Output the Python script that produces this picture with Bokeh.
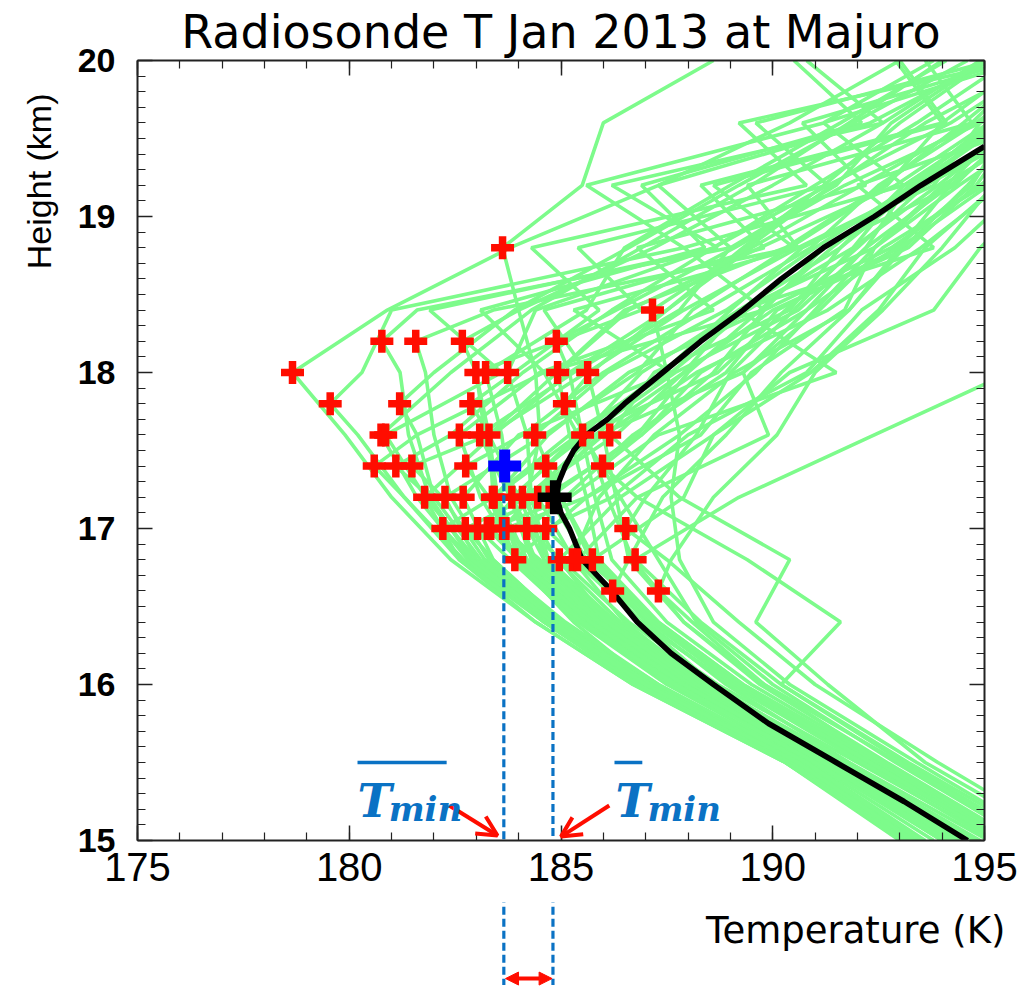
import numpy as np
from bokeh.plotting import figure
from bokeh.layouts import column
from bokeh.models import (LinearAxis, SingleIntervalTicker, Label, Arrow, OpenHead,
                          NormalHead, CustomJSTickFormatter, Range1d, Title)
from bokeh.embed import file_html
from bokeh.resources import INLINE

# ---------------- data ----------------
LEVELS = [15.0, 15.5, 16.0, 16.4, 16.8, 17.2, 17.6, 18.0, 18.4, 18.8, 19.2, 19.6, 20.0]

# cold points (red crosses): temperature (K), height (km)
CP_Z = [16.6, 16.6,
        16.8, 16.8, 16.8, 16.8, 16.8, 16.8,
        17.0, 17.0, 17.0, 17.0, 17.0, 17.0, 17.0, 17.0, 17.0, 17.0,
        17.2, 17.2, 17.2, 17.2, 17.2, 17.2, 17.2, 17.2, 17.2,
        17.4, 17.4, 17.4, 17.4, 17.4, 17.4,
        17.6, 17.6, 17.6, 17.6, 17.6, 17.6, 17.6, 17.6,
        17.8, 17.8, 17.8, 17.8,
        18.0, 18.0, 18.0, 18.0, 18.0, 18.0,
        18.2, 18.2, 18.2, 18.2,
        18.4, 18.8]
CP_T = [186.22, 187.30,
        183.91, 184.96, 185.27, 185.39, 185.74, 186.75,
        182.21, 182.74, 183.03, 183.26, 183.34, 183.62, 183.70, 184.19, 184.64, 186.53,
        181.78, 182.26, 182.69, 183.38, 183.42, 183.84, 184.09, 184.45, 184.72,
        180.59, 181.10, 181.48, 182.75, 184.64, 185.98,
        180.75, 180.86, 182.60, 183.08, 183.30, 184.38, 185.51, 186.15,
        179.55, 181.19, 182.87, 185.08,
        178.66, 182.99, 183.22, 183.74, 184.92, 185.63,
        180.77, 181.57, 182.67, 184.89,
        187.16, 183.62]

# soundings: temperature (K) at LEVELS
PROFILES_T = [
    [194.8, 191.6, 188.6, 186.9, 186.6, 187.4, 188.9, 190.2, 191.8, 193.1, 194.6, 196.0, 197.8],
    [195.8, 192.6, 189.8, 188.1, 187.6, 188.6, 190.1, 191.0, 192.6, 194.0, 195.2, 196.8, 198.4],
    [193.2, 190.3, 187.1, 185.3, 183.91, 185.6, 187.8, 189.6, 191.0, 192.4, 194.1, 195.6, 197.2],
    [194.2, 191.0, 188.0, 186.1, 184.96, 186.4, 188.6, 190.9, 192.5, 193.6, 195.3, 197.0, 199.0],
    [194.6, 191.6, 188.4, 186.5, 185.27, 185.9, 187.2, 189.1, 191.8, 193.0, 194.2, 196.1, 197.4],
    [195.4, 192.2, 189.0, 186.9, 185.39, 186.8, 189.9, 189.3, 190.8, 192.9, 194.7, 195.6, 196.9],
    [195.1, 191.8, 188.9, 187.0, 185.74, 187.9, 188.6, 190.4, 193.8, 194.9, 196.4, 198.0, 199.1],
    [196.2, 193.1, 190.2, 188.3, 186.75, 189.2, 192.4, 195.6, 197.0, 198.5, 200.0, 201.0, 202.0],
    [193.1, 190.4, 186.8, 184.6, 182.9, 183.4, 185.4, 184.6, 189.8, 187.9, 193.1, 191.2, 195.9],
    [193.4, 190.6, 187.2, 185.0, 183.4, 184.2, 185.8, 187.9, 189.2, 191.6, 193.4, 195.5, 197.3],
    [193.8, 190.9, 187.5, 185.4, 183.8, 184.6, 186.9, 188.3, 190.8, 192.2, 193.2, 195.2, 196.6],
    [194.0, 191.2, 187.8, 185.6, 184.0, 183.9, 185.4, 187.4, 189.0, 190.7, 193.8, 194.9, 197.8],
    [193.6, 190.8, 187.6, 185.5, 184.1, 185.2, 187.3, 191.5, 189.2, 193.8, 192.0, 196.3, 198.2],
    [194.3, 191.4, 188.1, 186.0, 184.5, 184.3, 186.0, 188.2, 191.3, 193.5, 195.4, 196.9, 198.6],
    [194.9, 191.7, 188.3, 186.1, 184.4, 185.6, 188.3, 189.5, 191.7, 192.4, 194.0, 196.5, 197.9],
    [195.3, 192.0, 188.7, 186.6, 185.0, 185.1, 186.7, 188.9, 190.1, 193.0, 195.1, 196.2, 198.8],
    [195.7, 192.4, 189.2, 187.1, 185.4, 186.2, 188.0, 190.8, 192.1, 194.3, 195.9, 197.6, 199.3],
    [197.0, 193.9, 191.0, 189.2, 187.5, 187.0, 188.2, 189.0, 190.5, 191.9, 193.9, 195.8, 197.1],
    [193.0, 190.3, 186.7, 184.4, 182.6, 181.78, 183.4, 185.2, 187.5, 189.3, 191.2, 193.0, 195.1],
    [193.3, 190.5, 187.0, 184.7, 183.0, 182.26, 184.6, 186.8, 188.1, 190.4, 192.7, 194.0, 196.0],
    [193.5, 190.7, 187.3, 185.0, 183.4, 182.69, 184.0, 187.6, 185.3, 190.6, 189.4, 194.7, 193.6],
    [194.1, 191.1, 187.9, 185.7, 184.1, 183.38, 185.2, 187.6, 189.4, 191.9, 193.1, 195.4, 197.0],
    [194.5, 191.5, 188.2, 185.9, 184.2, 183.42, 184.7, 186.6, 189.8, 191.2, 194.3, 195.8, 197.7],
    [194.8, 191.8, 188.5, 186.3, 184.6, 183.84, 185.5, 188.7, 190.3, 192.0, 193.6, 196.4, 198.3],
    [194.4, 191.4, 188.4, 186.4, 184.9, 184.09, 186.3, 187.9, 190.0, 193.2, 194.8, 195.9, 197.5],
    [195.2, 192.1, 189.0, 186.9, 185.3, 184.45, 185.9, 189.3, 191.1, 192.6, 195.0, 197.3, 199.4],
    [195.6, 192.5, 189.3, 187.3, 185.6, 184.72, 186.8, 188.0, 189.7, 191.4, 193.3, 195.1, 196.8],
    [193.1, 190.5, 186.9, 184.6, 182.7, 181.3, 181.6, 184.6, 183.1, 188.4, 186.9, 192.1, 190.5],
    [193.2, 190.6, 187.0, 184.8, 182.9, 181.9, 182.4, 184.1, 186.2, 188.6, 191.0, 193.4, 195.6],
    [193.4, 190.8, 187.2, 185.0, 183.2, 182.2, 183.3, 185.6, 184.6, 189.8, 188.3, 194.0, 192.9],
    [194.0, 191.1, 187.8, 185.6, 183.9, 183.3, 184.1, 186.0, 188.4, 190.9, 192.5, 194.8, 196.8],
    [195.5, 192.3, 189.1, 187.1, 185.7, 185.0, 185.6, 187.7, 190.6, 192.2, 194.2, 196.0, 198.0],
    [196.4, 193.2, 190.2, 191.6, 189.4, 186.8, 186.9, 188.6, 189.8, 192.8, 194.9, 196.8, 198.5],
    [193.2, 190.5, 186.9, 184.7, 182.8, 181.6, 180.75, 182.4, 184.3, 186.9, 189.5, 191.8, 194.0],
    [193.4, 190.7, 187.1, 184.9, 183.0, 181.8, 180.86, 183.6, 181.9, 188.7, 186.2, 192.6, 190.8],
    [194.1, 191.2, 187.9, 185.7, 184.0, 183.1, 182.60, 184.5, 188.6, 186.8, 192.2, 190.7, 195.7],
    [194.4, 191.5, 188.2, 186.0, 184.4, 183.8, 183.08, 185.3, 187.8, 189.0, 191.5, 192.8, 195.0],
    [194.7, 191.7, 188.4, 186.3, 184.7, 184.0, 183.30, 184.9, 186.5, 190.3, 192.6, 194.5, 196.3],
    [195.4, 192.3, 189.2, 187.2, 185.8, 185.0, 184.38, 186.1, 188.9, 191.0, 193.3, 195.5, 197.4],
    [196.0, 192.9, 190.0, 188.2, 187.3, 186.4, 185.51, 186.9, 189.2, 192.4, 194.4, 196.6, 198.7],
    [196.8, 193.6, 191.3, 189.6, 190.4, 187.8, 186.15, 187.2, 190.4, 191.6, 193.1, 195.3, 197.9],
    [193.2, 190.4, 186.8, 184.6, 182.6, 181.3, 180.2, 180.3, 181.0, 187.9, 185.6, 191.2, 193.8],
    [193.5, 190.7, 187.1, 184.9, 183.1, 182.0, 181.6, 182.0, 183.9, 186.6, 189.2, 191.9, 194.6],
    [194.2, 191.3, 188.0, 185.8, 184.2, 183.5, 183.3, 183.9, 185.9, 184.3, 190.8, 189.2, 195.8],
    [195.8, 192.7, 189.7, 187.9, 186.7, 186.1, 185.6, 185.7, 187.5, 189.5, 192.1, 194.7, 196.2],
    [193.1, 190.3, 186.7, 184.4, 182.4, 181.0, 179.9, 178.66, 180.9, 183.8, 187.3, 190.4, 193.0],
    [194.0, 191.0, 187.7, 185.5, 183.9, 183.4, 183.3, 182.99, 186.9, 185.4, 191.3, 189.6, 195.2],
    [194.3, 191.4, 188.1, 185.9, 184.3, 183.8, 183.6, 183.22, 185.6, 186.5, 189.0, 191.6, 194.1],
    [194.6, 191.6, 188.3, 186.2, 184.7, 184.3, 184.2, 183.74, 184.4, 188.6, 191.3, 194.2, 196.5],
    [195.6, 192.5, 189.3, 187.3, 185.9, 185.6, 185.2, 184.92, 186.6, 189.7, 192.9, 195.1, 197.6],
    [196.1, 193.0, 189.8, 187.9, 186.6, 186.3, 186.0, 185.63, 187.9, 190.6, 193.6, 196.2, 198.1],
    [193.3, 190.6, 187.0, 184.8, 182.9, 181.9, 181.4, 181.2, 181.6, 189.0, 187.3, 192.3, 195.1],
    [193.5, 190.8, 187.3, 185.1, 183.3, 182.4, 182.0, 181.8, 183.4, 190.5, 188.6, 194.1, 193.0],
    [194.1, 191.2, 187.9, 185.7, 184.0, 183.5, 183.2, 183.0, 184.0, 187.2, 190.0, 192.6, 194.9],
    [195.7, 192.6, 189.5, 187.5, 186.2, 185.8, 185.5, 185.2, 186.3, 189.1, 191.7, 194.9, 197.3],
    [196.5, 193.4, 190.4, 188.6, 187.8, 187.6, 187.8, 187.5, 187.16, 189.4, 191.4, 193.6, 196.4],
    [194.5, 191.5, 188.2, 186.1, 184.6, 184.2, 184.5, 184.4, 184.0, 183.62, 185.5, 186.0, 188.6],
]

# monthly mean profile (black)
MEAN_Z = [15.0, 15.25, 15.5, 15.75, 16.0, 16.2, 16.4, 16.6, 16.8, 17.0, 17.1, 17.2, 17.3,
          17.4, 17.5, 17.6, 17.7, 17.8, 18.0, 18.2, 18.4, 18.6, 18.8, 19.0, 19.2, 19.45]
MEAN_T = [194.6, 193.1, 191.5, 189.9, 188.6, 187.6, 186.8, 186.2, 185.5, 185.2, 185.0, 184.9, 184.95,
          185.1, 185.3, 185.6, 186.1, 186.5, 187.4, 188.3, 189.3, 190.2, 191.2, 192.4, 193.5, 195.0]

MEAN_CP_T = [184.85]   # cold point of the mean profile
MEAN_CP_Z = [17.2]
AVG_CP_T = [183.67]    # mean of the individual cold points
AVG_CP_Z = [17.4]

# ---------------- layout constants ----------------
X0, X1 = 175, 195
Y0, Y1 = 15, 20
FRAME_W, FRAME_H = 847, 780
PX_K = FRAME_W / (X1 - X0)
PX_KM = FRAME_H / (Y1 - Y0)
LEFT, TOP, RIGHT, BOTTOM = 135, 60, 36, 62
B_H = 84
B_FRAME_W = 870

RED = "#FF0D00"
BLUE = "#0A72C4"
GREEN = "#7DFB8B"
AX_COL = "#222222"

# ---------------- build profile polylines ----------------
xs, ys = [], []
for t_row, cz, ct in zip(PROFILES_T, CP_Z, CP_T):
    pts = {round(z, 2): t for z, t in zip(LEVELS, t_row)}
    pts[round(cz, 2)] = ct
    zz = sorted(pts)
    xs.append([pts[z] for z in zz])
    ys.append(zz)

# ---------------- main figure ----------------
p = figure(frame_width=FRAME_W, frame_height=FRAME_H, output_backend="svg", toolbar_location=None,
           x_range=Range1d(X0, X1), y_range=Range1d(Y0, Y1),
           min_border_left=LEFT, min_border_right=RIGHT, min_border_top=TOP, min_border_bottom=BOTTOM,
           x_axis_type=None, y_axis_type=None,
           title="Radiosonde T Jan 2013 at Majuro")
p.outline_line_color = None
p.xgrid.visible = False
p.ygrid.visible = False
p.title.align = "center"
p.title.text_font = "DejaVu Sans"
p.title.text_font_size = "46px"
p.title.text_font_style = "normal"
p.title.text_color = "black"
p.title.standoff = 4


def make_axis(kind, labels):
    if kind == "x":
        tk = SingleIntervalTicker(interval=5, num_minor_ticks=5)
    else:
        tk = SingleIntervalTicker(interval=1, num_minor_ticks=10)
    ax = LinearAxis(ticker=tk)
    ax.axis_line_color = AX_COL
    ax.axis_line_width = 2
    ax.major_tick_line_color = AX_COL
    ax.minor_tick_line_color = AX_COL
    ax.major_tick_line_width = 1.5
    ax.minor_tick_line_width = 1.2
    ax.major_tick_in = 15
    ax.major_tick_out = 0
    ax.minor_tick_in = 8
    ax.minor_tick_out = 0
    if not labels:
        ax.formatter = CustomJSTickFormatter(code="return ''")
        ax.major_label_text_font_size = "0px"
        ax.major_label_standoff = 0
    return ax


xb = make_axis("x", True)
xb.major_label_text_font = "Liberation Sans"
xb.major_label_text_font_size = "40px"
xb.major_label_text_color = "black"
xb.major_label_standoff = 12
p.add_layout(xb, "below")

yl = make_axis("y", True)
yl.major_label_text_font = "Liberation Sans"
yl.major_label_text_font_size = "34px"
yl.major_label_text_font_style = "bold"
yl.major_label_text_color = "black"
yl.major_label_standoff = 22
p.add_layout(yl, "left")
p.add_layout(Title(text="Height (km)", align="right", offset=33, standoff=34,
                   text_font="Liberation Sans", text_font_size="34px",
                   text_font_style="normal", text_color="black"), "left")

p.add_layout(make_axis("x", False), "above")
p.add_layout(make_axis("y", False), "right")

# glyphs
p.multi_line(xs, ys, line_color=GREEN, line_width=3.6)
p.line(MEAN_T, MEAN_Z, line_color="black", line_width=5.5)
p.scatter(CP_T, CP_Z, marker="cross", size=23, line_width=7.5, line_color=RED)
p.scatter(AVG_CP_T, AVG_CP_Z, marker="cross", size=33, line_width=11, line_color="#0000FF")
p.scatter(MEAN_CP_T, MEAN_CP_Z, marker="cross", size=34, line_width=9.5, line_color="black")

# dashed guides inside the frame
p.segment(x0=[AVG_CP_T[0] - 0.02, MEAN_CP_T[0] - 0.04],
          y0=[AVG_CP_Z[0] - 0.11, MEAN_CP_Z[0] - 0.12],
          x1=[AVG_CP_T[0] - 0.02, MEAN_CP_T[0] - 0.04],
          y1=[Y0 - 0.05, Y0 - 0.05],
          line_color=BLUE, line_width=3.2, line_dash="8 4")

# red pointer arrows
p.add_layout(Arrow(end=OpenHead(size=20, line_color=RED, line_width=4),
                   x_start=182.36, y_start=15.224, x_end=183.50, y_end=15.032,
                   line_color=RED, line_width=4))
p.add_layout(Arrow(end=OpenHead(size=20, line_color=RED, line_width=4),
                   x_start=186.14, y_start=15.224, x_end=185.0, y_end=15.025,
                   line_color=RED, line_width=4))

# T_min labels
for tx, mx, ob0, ob1 in [(180.195, 180.93, 180.195, 182.30), (186.287, 187.04, 186.263, 186.92)]:
    p.add_layout(Label(x=tx, y=15.256, text="T", text_font="DejaVu Serif",
                       text_font_style="bold italic", text_font_size="46px",
                       text_color=BLUE, text_baseline="alphabetic", text_align="left"))
    p.add_layout(Label(x=mx, y=15.205, text="min", text_font="DejaVu Serif",
                       text_font_style="bold italic", text_font_size="34px",
                       text_color=BLUE, text_baseline="alphabetic", text_align="left"))
    p.add_layout(Arrow(end=None, x_start=ob0, y_start=15.5, x_end=ob1, y_end=15.5,
                       line_color=BLUE, line_width=3.5))

# ---------------- lower strip (below the tick labels) ----------------
b_y_top = Y0 - BOTTOM / PX_KM
b_y_bot = Y0 - (BOTTOM + B_H) / PX_KM
b_x_end = X0 + B_FRAME_W / PX_K
q = figure(frame_width=B_FRAME_W, frame_height=B_H, output_backend="svg", toolbar_location=None,
           x_range=Range1d(X0, b_x_end), y_range=Range1d(b_y_bot, b_y_top),
           min_border_left=LEFT, min_border_right=1018 - LEFT - B_FRAME_W,
           min_border_top=0, min_border_bottom=0,
           x_axis_type=None, y_axis_type=None)
q.outline_line_color = None
q.xgrid.visible = False
q.ygrid.visible = False

q.segment(x0=[AVG_CP_T[0] - 0.02, MEAN_CP_T[0] - 0.04], y0=[b_y_top + 0.05, b_y_top + 0.05],
          x1=[AVG_CP_T[0] - 0.02, MEAN_CP_T[0] - 0.04], y1=[b_y_bot + 0.01, b_y_bot + 0.01],
          line_color=BLUE, line_width=3.2, line_dash="8 4")
q.add_layout(Arrow(start=NormalHead(size=13, fill_color=RED, line_color=RED),
                   end=NormalHead(size=13, fill_color=RED, line_color=RED),
                   x_start=AVG_CP_T[0] + 0.02, y_start=14.115, x_end=MEAN_CP_T[0] - 0.06, y_end=14.115,
                   line_color=RED, line_width=4))
q.add_layout(Label(x=b_x_end - 0.05, y=14.423, text="Temperature (K)",
                   text_font="DejaVu Sans", text_font_size="37px", text_color="black",
                   text_align="right", text_baseline="middle"))

layout = column(p, q, spacing=0)
open("out.html", "w").write(file_html(layout, INLINE))
